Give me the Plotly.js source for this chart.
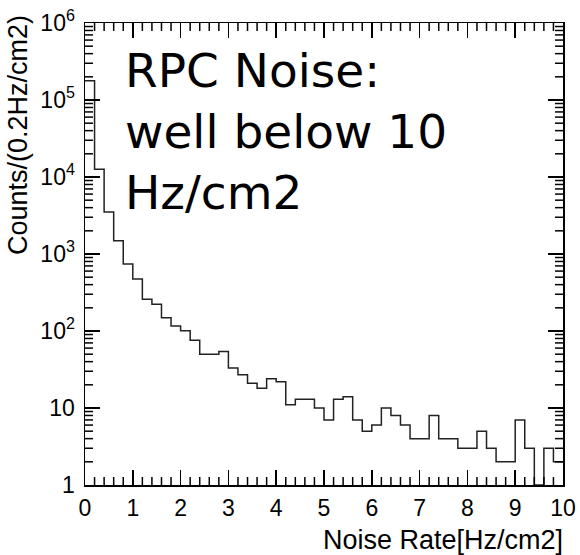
<!DOCTYPE html>
<html>
<head>
<meta charset="utf-8">
<script src="https://cdn.plot.ly/plotly-3.0.1.min.js"></script>
<style>html,body{margin:0;padding:0;background:#fff;}#chart{width:580px;height:555px;}</style>
</head>
<body>
<div id="chart"></div>
<script>
// Bin low edges (Hz/cm2), bin width 0.2
var binLow = [0.0,0.2,0.4,0.6,0.8,1.0,1.2,1.4,1.6,1.8,
              2.0,2.2,2.4,2.6,2.8,3.0,3.2,3.4,3.6,3.8,
              4.0,4.2,4.4,4.6,4.8,5.0,5.2,5.4,5.6,5.8,
              6.0,6.2,6.4,6.6,6.8,7.0,7.2,7.4,7.6,7.8,
              8.0,8.2,8.4,8.6,8.8,9.0,9.2,9.4,9.6,9.8];
var binHigh = 10.0;
// Counts per bin
var counts = [178000,12600,3500,1490,740,473,258,222,149,116,
              101,76,50,50,54,33,27,21,18,24,
              22,11,13,13,10,7,13,14,7,5,
              6,10,8,6,4,4,8,4,4,3,
              3,5,3,2,2,7,3,1,3,2];
var yTickVals = [1,10,100,1000,10000,100000,1000000];
var yTickText = ["1","10","10<sup>2</sup>","10<sup>3</sup>","10<sup>4</sup>","10<sup>5</sup>","10<sup>6</sup>"];
var xTickVals = [0,1,2,3,4,5,6,7,8,9,10];
var xTickText = ["0","1","2","3","4","5","6","7","8","9","10"];
var titleX = "Noise Rate[Hz/cm2]";
var titleY = "Counts/(0.2Hz/cm2)";
var noteLines = ["RPC Noise:", "well below 10", "Hz/cm2"];

var W = 580, H = 555, ML = 85, MR = 17, MT = 23, MB = 70;
var plotW = W - ML - MR, plotH = H - MT - MB;
var minorLen = 8;

// minor tick positions (axis divisions)
var xMinor = [];
for (var i = 1; i < 50; i++) { if (i % 5 !== 0) xMinor.push(+(i * 0.2).toFixed(1)); }
var yMinor = [];
for (var d = 0; d < 6; d++) { for (var m = 2; m <= 9; m++) yMinor.push(m * Math.pow(10, d)); }

var shapes = [];
var fx = minorLen / plotH, fy = minorLen / plotW;
var tickLine = {color: '#000', width: 1.5};
xMinor.forEach(function (v) {
  shapes.push({type: 'line', layer: 'above', xref: 'x', yref: 'paper', x0: v, x1: v, y0: 0, y1: fx, line: tickLine});
  shapes.push({type: 'line', layer: 'above', xref: 'x', yref: 'paper', x0: v, x1: v, y0: 1, y1: 1 - fx, line: tickLine});
});
yMinor.forEach(function (v) {
  shapes.push({type: 'line', layer: 'above', xref: 'paper', yref: 'y', x0: 0, x1: fy, y0: v, y1: v, line: tickLine});
  shapes.push({type: 'line', layer: 'above', xref: 'paper', yref: 'y', x0: 1, x1: 1 - fy, y0: v, y1: v, line: tickLine});
});

var xs = binLow.concat([binHigh]);
var ys = counts.concat([counts[counts.length-1]]);

var trace = {
  x: xs, y: ys, type: 'scatter', mode: 'lines',
  line: {shape: 'hv', color: '#222', width: 1.5},
  hoverinfo: 'skip', showlegend: false
};

var tickFont = {family: 'Liberation Sans, Arial, sans-serif', size: 23, color: '#000'};
var titleFont = {family: 'Liberation Sans, Arial, sans-serif', size: 27, color: '#000'};
var layout = {
  width: W, height: H,
  margin: {l: ML, r: MR, t: MT, b: MB},
  paper_bgcolor: '#fff', plot_bgcolor: '#fff',
  showlegend: false,
  xaxis: {
    range: [0, 10], showgrid: false, zeroline: false,
    showline: true, linecolor: '#000', linewidth: 1.5, mirror: 'allticks',
    ticks: 'inside', ticklen: 15, tickcolor: '#000', tickwidth: 1.5,
    tickmode: 'array', tickvals: xTickVals, ticktext: xTickText,
    tickfont: tickFont, ticklabelstandoff: 2
  },
  yaxis: {
    type: 'log', range: [0, 6], showgrid: false, zeroline: false,
    showline: true, linecolor: '#000', linewidth: 1.5, mirror: 'allticks',
    ticks: 'inside', ticklen: 15, tickcolor: '#000', tickwidth: 1.5,
    tickmode: 'array', tickvals: yTickVals, ticktext: yTickText,
    tickfont: tickFont, ticklabelstandoff: 4
  },
  shapes: shapes,
  annotations: [
    {xref: 'paper', yref: 'paper', x: 1, y: 0, xanchor: 'right', yanchor: 'top', yshift: -38, xshift: 2,
     text: titleX, showarrow: false, font: titleFont},
    {xref: 'paper', yref: 'paper', x: 0, y: 1, xanchor: 'right', yanchor: 'top', xshift: -50, yshift: 10,
     textangle: -90, text: titleY, showarrow: false, font: titleFont},
    {xref: 'paper', yref: 'paper', x: 0.08, y: 0.96, xanchor: 'left', yanchor: 'top', align: 'left',
     text: noteLines.join('<br>'), showarrow: false,
     font: {family: 'DejaVu Sans, sans-serif', size: 47, color: '#000'}}
  ]
};

Plotly.newPlot('chart', [trace], layout, {displayModeBar: false, staticPlot: true});
</script>
</body>
</html>
